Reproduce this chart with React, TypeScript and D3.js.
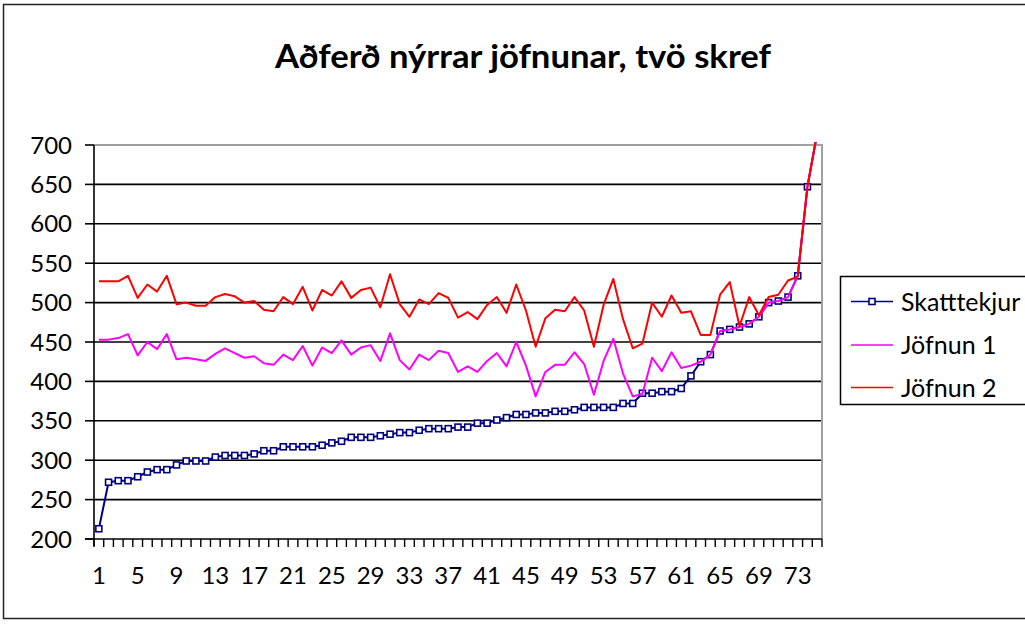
import React, { useEffect, useRef } from "react";
import * as d3 from "d3";

const categories = d3.range(1, 76).map(String);

const skatttekjur = [
  213, 272, 274, 274, 279, 285, 288, 288, 294, 299, 299, 299, 304, 306, 306, 306, 308, 312, 312, 317,
  317, 317, 317, 319, 322, 324, 329, 329, 329, 331, 333, 335, 335, 338, 340, 340, 340, 342, 342, 347,
  347, 351, 354, 358, 358, 360, 360, 362, 362, 364, 367, 367, 367, 367, 372, 372, 385, 385, 387, 387,
  391, 407, 425, 434, 464, 466, 469, 473, 482, 500, 502, 507, 534, 647, 715,
];

const jofnun1 = [
  453, 453, 455, 460, 433, 450, 441, 460, 428, 430, 428, 426, 435, 442, 436, 430, 432, 423, 421, 434,
  427, 445, 420, 443, 436, 452, 434, 443, 446, 426, 461, 427, 415, 434, 427, 439, 436, 412, 419, 412,
  426, 436, 419, 450, 420, 381, 412, 421, 421, 437, 422, 383, 426, 454, 410, 381, 384, 430, 413, 437,
  417, 420, 425, 434, 464, 466, 469, 473, 482, 500, 502, 507, 534, 647, 715,
];

const jofnun2 = [
  527, 527, 527, 534, 506, 523, 514, 534, 498, 500, 496, 496, 507, 511, 508, 500, 502, 491, 489, 507,
  498, 520, 490, 516, 509, 527, 506, 516, 519, 494, 536, 498, 482, 504, 498, 512, 506, 481, 488, 479,
  497, 507, 487, 523, 490, 444, 480, 491, 489, 507, 490, 444, 497, 530, 479, 442, 448, 500, 482, 509,
  487, 489, 459, 459, 510, 526, 470, 507, 484, 507, 510, 528, 533, 647, 715,
];

const yTicks = [200, 250, 300, 350, 400, 450, 500, 550, 600, 650, 700];
const xTickLabels = categories.filter((_, i) => i % 4 === 0);

const title = "Aðferð nýrrar jöfnunar, tvö skref";
const seriesNames = ["Skatttekjur", "Jöfnun 1", "Jöfnun 2"];
const seriesColors = ["#000080", "#FF00FF", "#FF0000"];

const App = () => {
  const ref = useRef<SVGSVGElement | null>(null);

  useEffect(() => {
    if (!ref.current) return;
    const svg = d3.select(ref.current);
    svg.selectAll("*").remove();

    const font = "Lato, 'Open Sans', sans-serif";
    const left = 94;
    const right = 822;
    const top = 145;
    const bottom = 539;

    const x = d3.scaleBand<string>().domain(categories).range([left, right]).paddingInner(0).paddingOuter(0);
    const cx = (c: string) => (x(c) as number) + x.bandwidth() / 2;
    const y = d3.scaleLinear().domain([200, 700]).range([bottom, top]);

    // outer chart border
    svg
      .append("rect")
      .attr("x", 3.5)
      .attr("y", 4.5)
      .attr("width", 1040)
      .attr("height", 614)
      .attr("fill", "white")
      .attr("stroke", "#222")
      .attr("stroke-width", 1.5);

    svg
      .append("text")
      .attr("x", 523)
      .attr("y", 68)
      .attr("text-anchor", "middle")
      .attr("font-family", font)
      .attr("font-weight", "bold")
      .attr("font-size", 33)
      .attr("textLength", 496)
      .attr("lengthAdjust", "spacingAndGlyphs")
      .text(title);

    // gridlines
    svg
      .append("g")
      .selectAll("line")
      .data(yTicks.filter((t) => t !== 700 && t !== 200))
      .join("line")
      .attr("x1", left)
      .attr("x2", right)
      .attr("y1", (d) => y(d))
      .attr("y2", (d) => y(d))
      .attr("stroke", "#000")
      .attr("stroke-width", 1.6);

    // plot area border (grey top / right)
    svg
      .append("path")
      .attr("d", `M${left},${top}H${right}V${bottom}`)
      .attr("fill", "none")
      .attr("stroke", "#a0a0a0")
      .attr("stroke-width", 2);

    // y axis
    const yAxis = svg.append("g");
    yAxis
      .append("line")
      .attr("x1", left)
      .attr("x2", left)
      .attr("y1", top)
      .attr("y2", bottom + 7)
      .attr("stroke", "#000")
      .attr("stroke-width", 1.6);
    yAxis
      .selectAll("line.tick")
      .data(yTicks)
      .join("line")
      .attr("class", "tick")
      .attr("x1", left - 9)
      .attr("x2", left)
      .attr("y1", (d) => y(d))
      .attr("y2", (d) => y(d))
      .attr("stroke", "#000")
      .attr("stroke-width", 1.6);
    yAxis
      .selectAll("text")
      .data(yTicks)
      .join("text")
      .attr("x", 72)
      .attr("y", (d) => y(d))
      .attr("dy", "0.36em")
      .attr("text-anchor", "end")
      .attr("font-family", font)
      .attr("font-size", 24)
      .text((d) => d);

    // x axis
    const xAxis = svg.append("g");
    xAxis
      .append("line")
      .attr("x1", left - 9)
      .attr("x2", right)
      .attr("y1", bottom)
      .attr("y2", bottom)
      .attr("stroke", "#000")
      .attr("stroke-width", 1.6);
    const edges = categories.map((c) => x(c) as number).concat([right]);
    xAxis
      .selectAll("line.tick")
      .data(edges)
      .join("line")
      .attr("class", "tick")
      .attr("x1", (d) => d)
      .attr("x2", (d) => d)
      .attr("y1", bottom)
      .attr("y2", bottom + 8)
      .attr("stroke", "#000")
      .attr("stroke-width", 1.4);
    xAxis
      .selectAll("text")
      .data(xTickLabels)
      .join("text")
      .attr("x", (d) => cx(d))
      .attr("y", 584)
      .attr("text-anchor", "middle")
      .attr("font-family", font)
      .attr("font-size", 24)
      .text((d) => d);

    // series
    svg
      .append("clipPath")
      .attr("id", "plotClip")
      .append("rect")
      .attr("x", left)
      .attr("y", top - 3)
      .attr("width", right - left)
      .attr("height", bottom - top + 3);

    const plot = svg.append("g").attr("clip-path", "url(#plotClip)");
    const line = d3
      .line<number>()
      .x((_, i) => cx(categories[i]))
      .y((d) => y(d));

    const allSeries = [skatttekjur, jofnun1, jofnun2];
    allSeries.forEach((s, k) => {
      plot
        .append("path")
        .attr("d", line(s))
        .attr("fill", "none")
        .attr("stroke", seriesColors[k])
        .attr("stroke-width", 2)
        .attr("stroke-linejoin", "round");
      if (k === 0) {
        plot
          .append("g")
          .selectAll("rect")
          .data(s)
          .join("rect")
          .attr("x", (_, i) => cx(categories[i]) - 3)
          .attr("y", (d) => y(d) - 3)
          .attr("width", 6)
          .attr("height", 6)
          .attr("fill", "white")
          .attr("stroke", seriesColors[0])
          .attr("stroke-width", 1.6);
      }
    });

    // legend
    const lg = svg.append("g");
    lg.append("rect")
      .attr("x", 840.5)
      .attr("y", 276.5)
      .attr("width", 200)
      .attr("height", 128)
      .attr("fill", "white")
      .attr("stroke", "#000")
      .attr("stroke-width", 1.5);
    const rows = [301.5, 345, 387.5];
    seriesNames.forEach((name, k) => {
      lg.append("line")
        .attr("x1", 851)
        .attr("x2", 893)
        .attr("y1", rows[k])
        .attr("y2", rows[k])
        .attr("stroke", seriesColors[k])
        .attr("stroke-width", 1.6);
      if (k === 0) {
        lg.append("rect")
          .attr("x", 869)
          .attr("y", rows[k] - 3)
          .attr("width", 6)
          .attr("height", 6)
          .attr("fill", "white")
          .attr("stroke", seriesColors[0])
          .attr("stroke-width", 1.6);
      }
      lg.append("text")
        .attr("x", 901)
        .attr("y", rows[k])
        .attr("dy", "0.36em")
        .attr("font-family", font)
        .attr("font-size", 25)
        .text(name);
    });
  }, []);

  return (
    <svg
      ref={ref}
      width={1025}
      height={624}
      style={{ position: "absolute", left: 0, top: 0, display: "block", background: "white" }}
    />
  );
};

export default App;
